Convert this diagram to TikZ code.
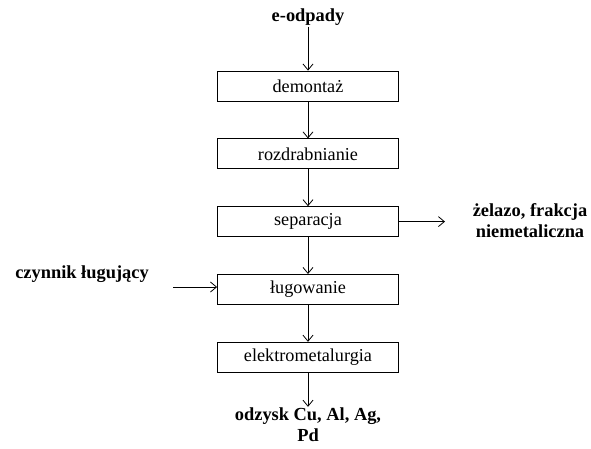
\documentclass[tikz,border=0pt]{standalone}
\usepackage{fontspec}
\setmainfont{Liberation Serif}
\usepackage{tikz}
\usetikzlibrary{positioning, arrows.meta}

\begin{document}
\begin{tikzpicture}[
  x=1pt, y=-1pt,
  node distance=37pt,
  stage/.style={draw, line width=0.8pt, minimum width=181pt, minimum height=30pt, inner sep=0pt, font=\fontsize{18.2}{20}\selectfont},
  term/.style={align=center, inner sep=1pt, font=\fontsize{18.4}{21}\selectfont\bfseries},
  arrow/.style={-{Straight Barb[length=6pt, width=10pt]}, line width=0.8pt},
]
\useasboundingbox (0,0) rectangle (591,448);

% ================= wejście =================
\node[term] (input) at (308,17) {e-odpady};

% ================= etapy procesu =================
\node[stage] (demont) at (308,86) {demontaż};
\node[stage, below=of demont] (rozdr) {rozdrabnianie};
\node[stage, below=of rozdr] (separ) {separacja};
\node[stage, below=of separ] (lug) {ługowanie};
\node[stage, below=of lug] (elektro) {elektrometalurgia};

% ================= produkty i czynniki =================
\node[term] (output) at (308,425) {odzysk Cu, Al, Ag,\\Pd};
\node[term] (frakcja) at (530,221) {żelazo, frakcja\\niemetaliczna};
\node[term] (czynnik) at (82,274) {czynnik ługujący};
\coordinate (frakcja_in) at (445,220);
\coordinate (czynnik_out) at (173,287);

% ================= połączenia =================
\draw[arrow] (input) -- (demont);
\draw[arrow] (demont) -- (rozdr);
\draw[arrow] (rozdr) -- (separ);
\draw[arrow] (separ) -- (lug);
\draw[arrow] (lug) -- (elektro);
\draw[arrow] (elektro) -- (output);
\draw[arrow] (separ.east) -- (separ.east -| frakcja_in);
\draw[arrow] (czynnik_out) -- (lug.west |- czynnik_out);

\end{tikzpicture}
\end{document}
